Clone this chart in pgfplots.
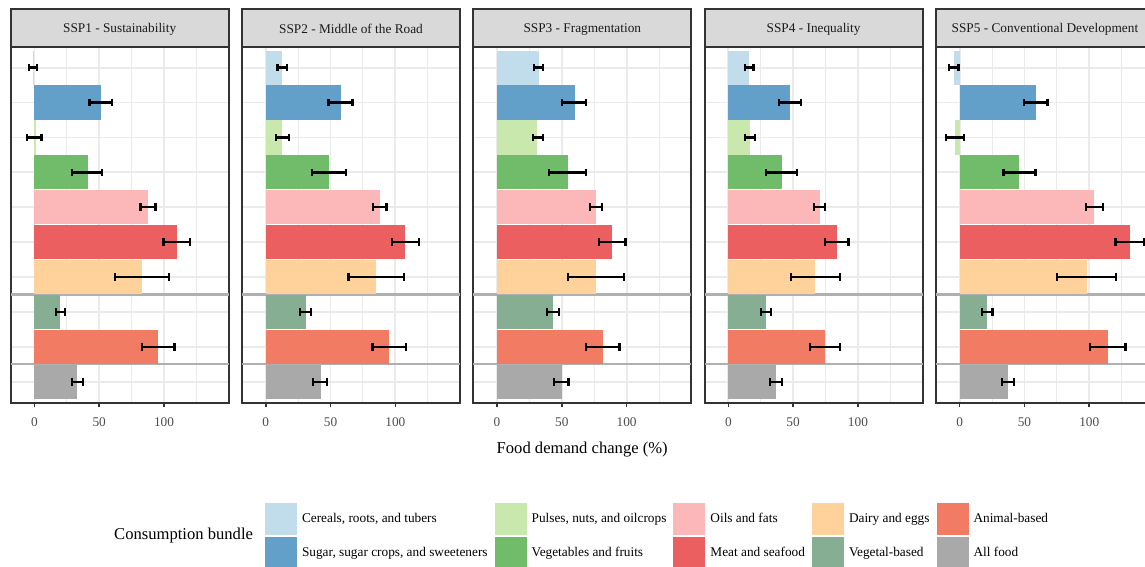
\documentclass[border=0pt]{standalone}
\usepackage{fontspec}
\setmainfont{Liberation Serif}
\usepackage{pgfplots}
\usepackage{pgfplotstable}
\pgfplotsset{compat=1.18}

% one picture unit = one pixel of the reference (1pt)
\definecolor{col0}{HTML}{C1DDEB}
\definecolor{col1}{HTML}{62A0CA}
\definecolor{col2}{HTML}{C9E8AD}
\definecolor{col3}{HTML}{70BC6B}
\definecolor{col4}{HTML}{FCB8B8}
\definecolor{col5}{HTML}{EC5F60}
\definecolor{col6}{HTML}{FED29A}
\definecolor{col7}{HTML}{86AE93}
\definecolor{col8}{HTML}{F27B63}
\definecolor{col9}{HTML}{A9A9A9}
\definecolor{frame}{HTML}{333333}
\definecolor{gridgray}{HTML}{EBEBEB}
\definecolor{sepgray}{HTML}{B0B0B0}
\definecolor{stripbg}{HTML}{D9D9D9}
\definecolor{stripfg}{HTML}{1A1A1A}
\definecolor{tickfg}{HTML}{4D4D4D}

\newcommand{\smallfont}{\fontsize{13.3}{16}\selectfont}
\newcommand{\bigfont}{\fontsize{16.6}{20}\selectfont}

% cat: 1 cereals, 2 sugar, 3 pulses, 4 vegetables, 5 oils, 6 meat,
% 7 dairy, 8 vegetal-based, 9 animal-based, 10 all food
\pgfplotstableread{
cat v lo hi
1 -1 -4 2
2 51 42.5 59.6
3 1 -5.9 5.4
4 41 29 52.4
5 87.7 81.8 93.4
6 110 99.5 120
7 83 62 104
8 20 16.6 23.8
9 95.6 82.9 108
10 33 29 37.6
}\sspone
\pgfplotstableread{
cat v lo hi
1 12.8 9.2 16.4
2 57.7 48.5 67
3 12.8 7.7 18.2
4 49.2 35.9 62
5 88.5 82.8 93.3
6 107.7 97.2 118
7 85.4 63.8 106.7
8 30.8 26.7 34.9
9 95.4 82.3 108.5
10 42.3 36.7 47.2
}\ssptwo
\pgfplotstableread{
cat v lo hi
1 32 28.6 35.5
2 59.8 50.4 68.8
3 31.2 27.9 35.5
4 55 40.2 68.8
5 76.5 71.9 81
6 88.7 78.8 99.2
7 76.5 55 98
8 43 38.4 47.6
9 81.8 68.5 94.6
10 49.9 44.2 55.2
}\sspthree
\pgfplotstableread{
cat v lo hi
1 16.2 12.9 19.5
2 47.8 39.3 55.8
3 17 12.6 20.6
4 41.6 29 53.2
5 71 66 74.6
6 84 74.8 92.8
7 67 48.3 86.1
8 29.3 25.4 32.9
9 74.8 63 86.1
10 37 32.1 41.6
}\sspfour
\pgfplotstableread{
cat v lo hi
1 -4.6 -8.2 -0.8
2 59 49.6 67.8
3 -3.8 -10.7 3.3
4 46 33.8 58.6
5 104 97.7 110.7
6 131.2 120.2 142.2
7 98 75.2 120.5
8 21.5 17.4 25.3
9 114.3 100.5 127.9
10 37.6 32.5 41.9
}\sspfive

\pgfplotsset{
  panel/.style={
    anchor=north west, scale only axis, width=218pt, height=356pt,
    xmin=-18.3, xmax=149.9, ymin=0.4, ymax=10.6, y dir=reverse,
    xtick={0,50,100}, minor xtick={25,75,125},
    ytick={1,...,10}, yticklabels={},
    grid=both,
    major grid style={draw=gridgray, line width=1.8pt},
    minor grid style={draw=gridgray, line width=0.9pt},
    axis line style={draw=frame, line width=2pt},
    tick align=outside, major tick length=4pt,
    xtick style={draw=frame, line width=1.6pt},
    ytick style={draw=none},
    minor tick length=0pt,
    extra y ticks={7.5,9.5}, extra y tick labels={},
    extra y tick style={grid=major, major grid style={draw=sepgray, line width=2.2pt}, tick style={draw=none}},
    /pgf/number format/assume math mode=true,
    xticklabel style={font=\smallfont, text=tickfg, yshift=-7pt},
  },
  barstyle/.style={xbar, bar width=0.98, bar shift=0pt, draw=none, forget plot},
  errstyle/.style={draw=none, mark=none, forget plot, line width=2.3pt,
    error bars/.cd, x dir=both, x explicit, error mark=|,
    error bar style={draw=black, line width=2.3pt},
    error mark options={draw=black, line width=2.3pt, mark size=3.8pt}},
}

\newcommand{\panel}[3]{%
  \begin{axis}[panel, at={(#1pt,519.3pt)}]
    \pgfplotsinvokeforeach{0,...,9}{%
      \addplot[barstyle, fill=col##1, restrict expr to domain={\coordindex}{##1:##1}]
        table[x=v, y=cat] {#2};
    }
    \addplot[errstyle] table[x=v, y=cat,
      x error plus expr=\thisrow{hi}-\thisrow{v},
      x error minus expr=\thisrow{v}-\thisrow{lo}] {#2};
  \end{axis}
  \draw[fill=stripbg, draw=frame, line width=2pt] (#1pt,519.3pt) rectangle ++(218pt,37.7pt);
  \node[font=\smallfont, text=stripfg] at ({#1pt+109pt},536.7pt) {#3};
}

\begin{document}
\begin{tikzpicture}
\panel{10.7}{\sspone}{SSP1 - Sustainability}
\panel{242}{\ssptwo}{SSP2 - Middle of the Road}
\panel{473.3}{\sspthree}{SSP3 - Fragmentation}
\panel{704.6}{\sspfour}{SSP4 - Inequality}
\panel{935.9}{\sspfive}{SSP5 - Conventional Development}

\node[font=\bigfont, anchor=base] at (582.2pt,113pt) {Food demand change (\%)};
\node[font=\bigfont, anchor=west, inner sep=0pt] at (114pt,30pt) {Consumption bundle};

% legend only axis
\begin{axis}[hide axis, scale only axis, width=1pt, height=1pt,
  xmin=0, xmax=1, ymin=0, ymax=1,
  at={(265pt,63.3pt)}, anchor=south west,
  legend columns=5,
  legend image code/.code={\fill[#1, draw=none] (0pt,-16.15pt) rectangle (32pt,16.15pt);},
  legend style={at={(0,0)}, anchor=north west, draw=none, fill=none,
    inner sep=0pt, outer sep=0pt, row sep=1.7pt, column sep=0pt,
    font=\smallfont, cells={anchor=west, inner sep=0pt},
    /tikz/every odd column/.append style={column sep=3pt},
    /tikz/every even column/.append style={column sep=5pt}},
  ]
  \addlegendimage{fill=col0, draw=none}\addlegendentry{Cereals, roots, and tubers}
  \addlegendimage{fill=col2, draw=none}\addlegendentry{Pulses, nuts, and oilcrops}
  \addlegendimage{fill=col4, draw=none}\addlegendentry{Oils and fats}
  \addlegendimage{fill=col6, draw=none}\addlegendentry{Dairy and eggs}
  \addlegendimage{fill=col8, draw=none}\addlegendentry{Animal-based}
  \addlegendimage{fill=col1, draw=none}\addlegendentry{Sugar, sugar crops, and sweeteners}
  \addlegendimage{fill=col3, draw=none}\addlegendentry{Vegetables and fruits}
  \addlegendimage{fill=col5, draw=none}\addlegendentry{Meat and seafood}
  \addlegendimage{fill=col7, draw=none}\addlegendentry{Vegetal-based}
  \addlegendimage{fill=col9, draw=none}\addlegendentry{All food}
\end{axis}

\pgfresetboundingbox
\useasboundingbox (0pt,0pt) rectangle (1145pt,566pt);
\end{tikzpicture}
\end{document}
